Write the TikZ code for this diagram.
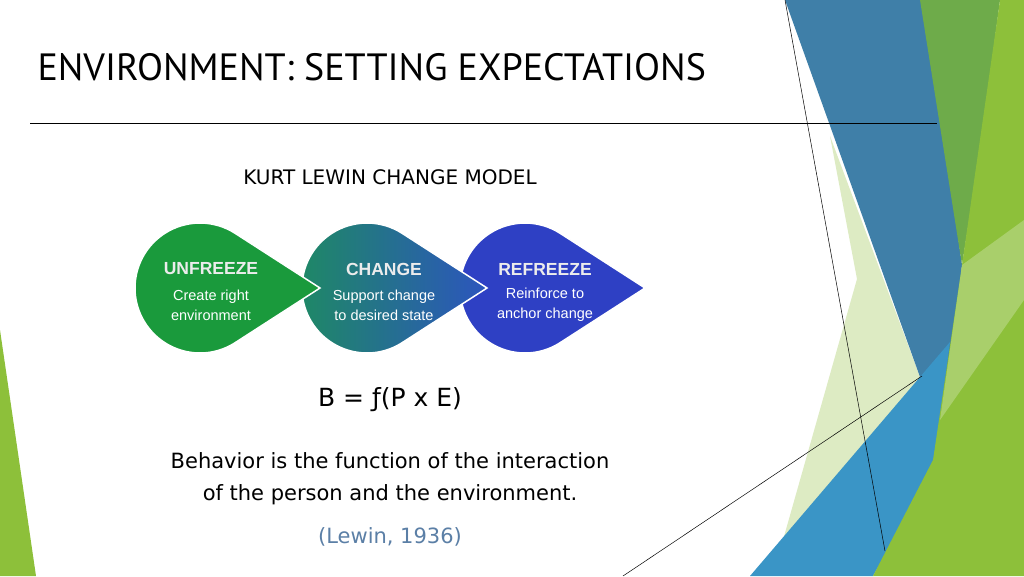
\documentclass[tikz,border=0pt]{standalone}
\usepackage{fontspec}
\setmainfont{DejaVu Sans}
\newfontfamily\ptf{PT Sans}
\newfontfamily\arialf{Liberation Sans}
\usetikzlibrary{calc}
\definecolor{dblue}{HTML}{3F7FA8}
\definecolor{lblue}{HTML}{3A95C6}
\definecolor{dgreen}{HTML}{6EAB4A}
\definecolor{lime}{HTML}{8DC03A}
\definecolor{pale}{HTML}{DDEBC3}
\definecolor{ugreen}{HTML}{1A9A3C}
\definecolor{cteal}{HTML}{1E8A62}
\definecolor{cblue}{HTML}{2C55BE}
\definecolor{rblue}{HTML}{2E40C4}
\definecolor{citec}{HTML}{5B7FA6}
\tikzset{
  drop/.style={draw=white, line width=1.5pt},
  head/.style={text=white!85!gray, font=\arialf\bfseries\fontsize{17.5}{19}\selectfont, align=center},
  sub/.style={text=white, font=\arialf\fontsize{14.5}{20}\selectfont, align=center},
  thin/.style={draw=black, line width=0.5pt}
}
\newcommand{\teardrop}[3]{%
  \path[#3] (#1+120,#2) -- ($(#1,#2)+(57.2:65)$) arc[start angle=57.2, end angle=302.8, radius=65] -- cycle;
}
\begin{document}
\begin{tikzpicture}[x=1pt,y=-1pt]
\useasboundingbox (0,0) rectangle (1024,576);
\fill[white] (0,0) rectangle (1024,576);
% right decoration
\fill[pale] (830,136) -- (920,377) -- (860,450) -- (783,540) -- (857,279) -- cycle;
\fill[dblue] (785,0) -- (925,0) -- (962,265) -- (945,423) -- (920,377) -- cycle;
\fill[dgreen] (920,0) -- (1000,0) -- (980,150) -- (962,265) -- cycle;
\fill[lblue] (750,576) -- (920,377) -- (950,342) -- (933,470) -- (873,576) -- cycle;
\fill[lime] (1000,0) -- (1024,0) -- (1024,576) -- (873,576) -- (933,460) -- (962,265) -- cycle;
\fill[white,opacity=0.25] (962,265) -- (1024,220) -- (1024,300) -- (940,420) -- cycle;
\fill[lime] (0,330) -- (36,576) -- (0,576) -- cycle;
\coordinate (l1a) at (785,0); \coordinate (l1b) at (885,551);
\coordinate (l2a) at (623,576); \coordinate (l2b) at (922,376);
\draw[thin] (l1a) -- (l1b);
\draw[thin] (l2a) -- (l2b);
% title
\node[anchor=base west, font=\ptf\fontsize{38}{40}\selectfont] (title) at (34,80) {ENVIRONMENT: SETTING EXPECTATIONS};
\coordinate (ra) at (30,123); \coordinate (rb) at (937,123);
\draw[thin] (ra) -- (rb);
\node[font=\fontsize{20}{24}\selectfont] (model) at (390,177) {KURT LEWIN CHANGE MODEL};
% teardrops
\teardrop{525}{288}{drop, fill=rblue}
\teardrop{367}{288}{drop, left color=cteal, right color=cblue}
\teardrop{200}{288}{drop, fill=ugreen}
\node[head] (h1) at (211,269) {UNFREEZE};
\node[sub] (s1) at (211,305) {Create right\\environment};
\node[head] (h2) at (384,269) {CHANGE};
\node[sub] (s2) at (384,305) {Support change\\to desired state};
\node[head] (h3) at (545,269) {REFREEZE};
\node[sub] (s3) at (545,305) {Reinforce to\\anchor change};
% formula and text
\node[font=\fontsize{25}{30}\selectfont] (f) at (390,400) {B = ƒ(P x E)};
\node[font=\fontsize{21}{32}\selectfont, align=center] (txt) at (390,479) {Behavior is the function of the interaction\\of the person and the environment.};
\node[font=\fontsize{21}{26}\selectfont, text=citec] (cite) at (390,537) {(Lewin, 1936)};
\end{tikzpicture}
\end{document}
